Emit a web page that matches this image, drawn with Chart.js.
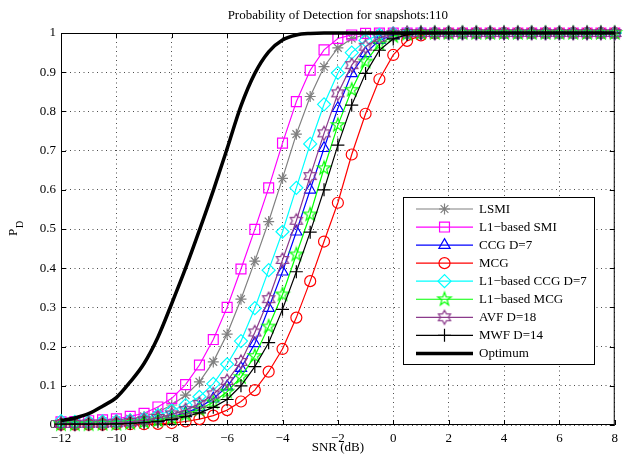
<!DOCTYPE html>
<html>
<head>
<meta charset="utf-8">
<script src="https://cdn.jsdelivr.net/npm/chart.js@4.4.0/dist/chart.umd.min.js"></script>
<style>
  body { margin: 0; background: #fff; }
</style>
</head>
<body>
<canvas id="pd" width="624" height="467"></canvas>
<script>
// SNR grid (dB)
const snr = [-12, -11.5, -11, -10.5, -10, -9.5, -9, -8.5, -8, -7.5, -7, -6.5, -6, -5.5, -5, -4.5, -4, -3.5, -3, -2.5,
  -2, -1.5, -1, -0.5, 0, 0.5, 1, 1.5, 2, 2.5, 3, 3.5, 4, 4.5, 5, 5.5, 6, 6.5, 7, 7.5, 8];

// probability of detection
const lsmi = [0.006, 0.007, 0.008, 0.010, 0.012, 0.016, 0.022, 0.033, 0.051, 0.076, 0.110, 0.161, 0.232, 0.321, 0.418, 0.519,
  0.629, 0.742, 0.838, 0.914, 0.962, 0.986, 0.996, 0.999, 1, 1, 1, 1, 1, 1, 1, 1, 1, 1, 1, 1, 1, 1, 1, 1, 1];
const l1Smi = [0.008, 0.009, 0.011, 0.013, 0.016, 0.022, 0.030, 0.046, 0.068, 0.103, 0.153, 0.218, 0.300, 0.398, 0.499, 0.605,
  0.719, 0.825, 0.905, 0.957, 0.986, 0.995, 0.999, 1, 1, 1, 1, 1, 1, 1, 1, 1, 1, 1, 1, 1, 1, 1, 1, 1, 1];
const ccg = [0.002, 0.002, 0.003, 0.003, 0.004, 0.006, 0.009, 0.014, 0.021, 0.031, 0.045, 0.067, 0.098, 0.145, 0.208, 0.298,
  0.391, 0.493, 0.600, 0.706, 0.808, 0.897, 0.948, 0.982, 0.994, 0.999, 1, 1, 1, 1, 1, 1, 1, 1, 1, 1, 1, 1, 1, 1, 1];
const mcg = [0.001, 0.001, 0.001, 0.001, 0.002, 0.002, 0.002, 0.003, 0.005, 0.009, 0.015, 0.024, 0.038, 0.060, 0.089, 0.136,
  0.194, 0.274, 0.367, 0.468, 0.567, 0.690, 0.794, 0.882, 0.944, 0.980, 0.994, 0.999, 1, 1, 1, 1, 1, 1, 1, 1, 1, 1, 1, 1, 1];
const l1Ccg = [0.010, 0.008, 0.008, 0.009, 0.010, 0.012, 0.016, 0.025, 0.037, 0.051, 0.072, 0.105, 0.155, 0.214, 0.298, 0.395,
  0.493, 0.605, 0.717, 0.818, 0.898, 0.950, 0.981, 0.995, 0.999, 1, 1, 1, 1, 1, 1, 1, 1, 1, 1, 1, 1, 1, 1, 1, 1];
const l1Mcg = [0.002, 0.002, 0.002, 0.003, 0.003, 0.005, 0.008, 0.012, 0.018, 0.027, 0.040, 0.058, 0.085, 0.122, 0.176, 0.251,
  0.333, 0.435, 0.537, 0.655, 0.765, 0.855, 0.927, 0.972, 0.992, 0.998, 1, 1, 1, 1, 1, 1, 1, 1, 1, 1, 1, 1, 1, 1, 1];
const avf = [0.003, 0.003, 0.004, 0.004, 0.006, 0.008, 0.012, 0.018, 0.027, 0.038, 0.054, 0.078, 0.112, 0.161, 0.236, 0.321,
  0.421, 0.521, 0.635, 0.744, 0.846, 0.918, 0.965, 0.988, 0.997, 1, 1, 1, 1, 1, 1, 1, 1, 1, 1, 1, 1, 1, 1, 1, 1];
const mwf = [0.002, 0.002, 0.002, 0.002, 0.003, 0.004, 0.006, 0.009, 0.014, 0.021, 0.031, 0.045, 0.065, 0.100, 0.149, 0.210,
  0.295, 0.391, 0.492, 0.600, 0.714, 0.816, 0.897, 0.956, 0.985, 0.996, 1, 1, 1, 1, 1, 1, 1, 1, 1, 1, 1, 1, 1, 1, 1];
const optimum = [0.011, 0.018, 0.029, 0.048, 0.070, 0.110, 0.157, 0.224, 0.310, 0.400, 0.497, 0.598, 0.705, 0.814, 0.897, 0.952,
  0.982, 0.995, 0.999, 1, 1, 1, 1, 1, 1, 1, 1, 1, 1, 1, 1, 1, 1, 1, 1, 1, 1, 1, 1, 1, 1];

const seriesNames = ['LSMI', 'L1\u2212based SMI', 'CCG D=7', 'MCG', 'L1\u2212based CCG D=7', 'L1\u2212based MCG', 'AVF D=18', 'MWF D=14', 'Optimum'];

const serif = '"Liberation Serif", "Times New Roman", serif';

// star shaped markers (matlab 'p' and 'h') drawn into small canvases
function starMarker(color, points, outer, inner) {
  const c = document.createElement('canvas');
  c.width = 18; c.height = 18;
  const g = c.getContext('2d');
  g.strokeStyle = color;
  g.lineWidth = 1.2;
  g.beginPath();
  for (let i = 0; i < points * 2; i++) {
    const r = i % 2 ? inner : outer;
    const a = -Math.PI / 2 + i * Math.PI / points;
    const px = 9 + r * Math.cos(a), py = 9 + r * Math.sin(a);
    if (i === 0) g.moveTo(px, py); else g.lineTo(px, py);
  }
  g.closePath();
  g.stroke();
  return c;
}

const purple = '#8b3a8b';
const pentagram = starMarker('#00ff00', 5, 7, 2.8);
const hexagram = starMarker(purple, 6, 7, 4);

function series(i, data, color, style, radius) {
  return {
    label: seriesNames[i],
    data: snr.map((s, k) => ({ x: s, y: data[k] })),
    borderColor: color,
    backgroundColor: 'rgba(0,0,0,0)',
    borderWidth: 1.2,
    pointStyle: style,
    pointRadius: radius,
    pointBorderColor: color,
    pointBackgroundColor: 'rgba(0,0,0,0)',
    pointBorderWidth: 1.2,
    tension: 0,
    clip: 12,
    order: 9 - i
  };
}

const datasets = [
  series(0, lsmi, '#808080', 'star', 5.5),
  series(1, l1Smi, '#ff00ff', 'rect', 7),
  series(2, ccg, '#0000ff', 'triangle', 6.5),
  series(3, mcg, '#ff0000', 'circle', 5.5),
  series(4, l1Ccg, '#00ffff', 'rectRot', 6.5),
  series(5, l1Mcg, '#00ff00', pentagram, 6),
  series(6, avf, purple, hexagram, 6),
  series(7, mwf, '#000000', 'cross', 6.5),
  Object.assign(series(8, optimum, '#000000', false, 0), { borderWidth: 3.5, cubicInterpolationMode: 'monotone' })
];

const frame = {
  id: 'frame',
  beforeDatasetsDraw(chart) {
    const { ctx, chartArea: a, scales } = chart;
    ctx.save();
    ctx.strokeStyle = '#000';
    ctx.lineWidth = 1;
    ctx.strokeRect(a.left + 0.5, a.top + 0.5, a.right - a.left - 1, a.bottom - a.top - 1);
    ctx.beginPath();
    scales.x.ticks.forEach(t => {
      const px = Math.round(scales.x.getPixelForValue(t.value)) + 0.5;
      ctx.moveTo(px, a.bottom); ctx.lineTo(px, a.bottom - 5);
      ctx.moveTo(px, a.top); ctx.lineTo(px, a.top + 5);
    });
    scales.y.ticks.forEach(t => {
      const py = Math.round(scales.y.getPixelForValue(t.value)) + 0.5;
      ctx.moveTo(a.left, py); ctx.lineTo(a.left + 5, py);
      ctx.moveTo(a.right, py); ctx.lineTo(a.right - 5, py);
    });
    ctx.stroke();
    ctx.restore();
  },
  afterDraw(chart) {
    const { ctx, chartArea: a } = chart;
    ctx.save();
    ctx.fillStyle = '#000';
    ctx.font = '13px ' + serif;
    ctx.textAlign = 'center';
    ctx.textBaseline = 'middle';
    ctx.fillText('Probability of Detection for snapshots:110', (a.left + a.right) / 2, 16);
    ctx.fillText('SNR (dB)', (a.left + a.right) / 2, 448);

    // y label P_D
    ctx.save();
    ctx.translate(14, 236);
    ctx.rotate(-Math.PI / 2);
    ctx.textAlign = 'left';
    ctx.fillText('P', 0, 0);
    ctx.font = '10px ' + serif;
    ctx.fillText('D', 8, 6);
    ctx.restore();

    // legend box
    const lx = 403, ly = 197, lw = 191, lh = 167;
    ctx.fillStyle = '#fff';
    ctx.fillRect(lx, ly, lw, lh);
    ctx.strokeStyle = '#000';
    ctx.lineWidth = 1;
    ctx.strokeRect(lx + 0.5, ly + 0.5, lw, lh);
    chart.data.datasets.forEach((ds, i) => {
      const y = 209 + i * 18.05;
      ctx.strokeStyle = ds.borderColor;
      ctx.lineWidth = ds.borderWidth;
      ctx.beginPath();
      ctx.moveTo(416, y); ctx.lineTo(473, y);
      ctx.stroke();
      if (ds.pointStyle && Chart.helpers && Chart.helpers.drawPoint) {
        ctx.fillStyle = 'rgba(0,0,0,0)';
        ctx.lineWidth = ds.pointBorderWidth;
        Chart.helpers.drawPoint(ctx, { pointStyle: ds.pointStyle, radius: ds.pointRadius, rotation: 0, borderWidth: ds.pointBorderWidth }, 444.5, y);
      }
      ctx.fillStyle = '#000';
      ctx.font = '13px ' + serif;
      ctx.textAlign = 'left';
      ctx.fillText(ds.label, 479, y + 0.5);
    });
    ctx.restore();
  }
};

new Chart(document.getElementById('pd'), {
  type: 'line',
  data: { datasets },
  options: {
    responsive: false,
    animation: false,
    devicePixelRatio: 1,
    layout: { padding: { top: 33, right: 6, bottom: 0, left: 0 } },
    plugins: { legend: { display: false }, title: { display: false }, tooltip: { enabled: false } },
    scales: {
      x: {
        type: 'linear', min: -12, max: 8,
        ticks: { stepSize: 2, padding: 6, color: '#000', font: { family: serif, size: 13 },
          callback: v => String(v).replace('-', '\u2212') },
        grid: { color: 'rgba(0,0,0,0.7)', drawTicks: false, lineWidth: 1 },
        border: { display: false, dash: [1, 3.5] },
        afterFit: s => { s.height = 42; }
      },
      y: {
        type: 'linear', min: 0, max: 1,
        ticks: { stepSize: 0.1, padding: 5, color: '#000', font: { family: serif, size: 13 },
          callback: v => String(Math.round(v * 10) / 10) },
        grid: { color: 'rgba(0,0,0,0.7)', drawTicks: false, lineWidth: 1 },
        border: { display: false, dash: [1, 3.5] },
        afterFit: s => { s.width = 61; }
      }
    }
  },
  plugins: [frame]
});
</script>
</body>
</html>
